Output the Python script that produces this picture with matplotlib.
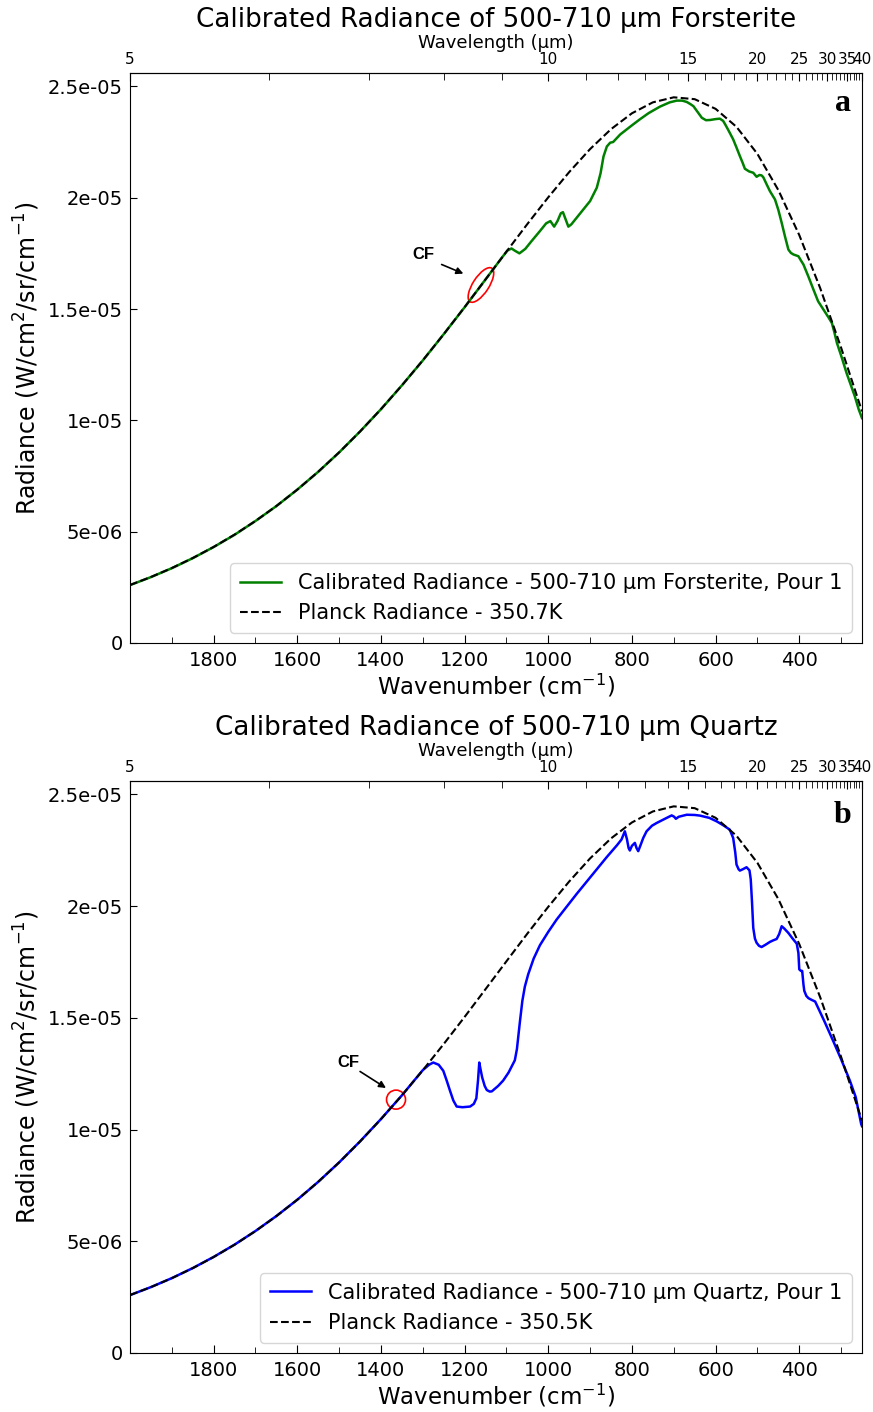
import matplotlib
matplotlib.use("Agg")
import matplotlib.pyplot as plt
from matplotlib.patches import Ellipse
from matplotlib import transforms

UNIT = 1e-6  # radiance values below are in units of 1e-6 W/cm^2/sr/cm^-1

# Planck curves sampled every 50 cm^-1
planck_wn = [2000, 1950, 1900, 1850, 1800, 1750, 1700, 1650, 1600, 1550,
             1500, 1450, 1400, 1350, 1300, 1250, 1200, 1150, 1100, 1050,
             1000, 950, 900, 850, 800, 750, 700, 650, 600, 550,
             500, 450, 400, 350, 300, 250]
planck_forsterite = [2.604, 2.963, 3.366, 3.815, 4.314, 4.868, 5.480, 6.152, 6.888, 7.691,
                     8.561, 9.498, 10.503, 11.569, 12.694, 13.869, 15.085, 16.328, 17.578, 18.818,
                     20.018, 21.151, 22.185, 23.078, 23.791, 24.282, 24.508, 24.424, 23.990, 23.180,
                     21.965, 20.341, 18.322, 15.941, 13.266, 10.403]
planck_quartz = [2.592, 2.949, 3.351, 3.798, 4.296, 4.848, 5.458, 6.128, 6.862, 7.663,
                 8.531, 9.466, 10.469, 11.532, 12.655, 13.828, 15.042, 16.284, 17.532, 18.771,
                 19.970, 21.103, 22.137, 23.031, 23.745, 24.237, 24.465, 24.384, 23.953, 23.147,
                 21.936, 20.316, 18.301, 15.924, 13.253, 10.394]

# Calibrated radiance, 500-710 um forsterite, pour 1
forsterite_wn = [2000, 1950, 1900, 1850, 1800, 1750, 1700, 1650, 1600, 1550,
                 1500, 1450, 1400, 1350, 1300, 1250, 1200, 1150, 1110, 1098,
                 1088, 1080, 1069, 1055, 1040, 1020, 1005, 995, 986, 978,
                 970, 965, 958, 952, 945, 930, 915, 900, 884, 875,
                 868, 860, 852, 845, 828, 800, 781, 760, 733, 710,
                 693, 680, 669, 660, 653, 643, 633, 623, 613, 600,
                 590, 582, 577, 568, 558, 550, 542, 535, 530, 520,
                 510, 502, 495, 490, 486, 478, 470, 458, 450, 442,
                 434, 426, 420, 414, 402, 396, 390, 378, 366, 355,
                 342, 330, 322, 316, 310, 298, 287, 277, 267, 258, 250]
forsterite_rad = [2.60, 2.96, 3.36, 3.81, 4.31, 4.86, 5.48, 6.15, 6.89, 7.69,
                  8.56, 9.50, 10.50, 11.57, 12.69, 13.87, 15.08, 16.33, 17.33, 17.62,
                  17.72, 17.62, 17.50, 17.70, 18.05, 18.50, 18.85, 18.95, 18.70, 18.95,
                  19.30, 19.35, 19.00, 18.70, 18.80, 19.15, 19.50, 19.85, 20.45, 21.10,
                  21.85, 22.30, 22.47, 22.50, 22.84, 23.25, 23.52, 23.80, 24.09, 24.28,
                  24.36, 24.36, 24.30, 24.20, 24.11, 23.85, 23.59, 23.48, 23.49, 23.53,
                  23.55, 23.45, 23.29, 22.98, 22.62, 22.25, 21.87, 21.55, 21.30, 21.18,
                  21.12, 20.94, 21.02, 21.00, 20.92, 20.60, 20.29, 19.92, 19.45, 18.87,
                  18.25, 17.67, 17.52, 17.45, 17.37, 17.18, 17.00, 16.45, 15.87, 15.35,
                  14.97, 14.62, 14.37, 13.95, 13.48, 12.80, 12.13, 11.60, 11.07, 10.50, 10.10]

# Calibrated radiance, 500-710 um quartz, pour 1
quartz_wn = [2000, 1950, 1900, 1850, 1800, 1750, 1700, 1650, 1600, 1550,
             1500, 1450, 1400, 1350, 1300, 1285, 1275, 1262, 1251, 1243,
             1235, 1227, 1219, 1205, 1187, 1178, 1172, 1168, 1165, 1162,
             1158, 1152, 1147, 1140, 1135, 1120, 1108, 1095, 1080, 1075,
             1068, 1062, 1056, 1048, 1035, 1020, 1000, 980, 955, 932,
             908, 884, 860, 836, 825, 817, 812, 808, 805, 800,
             793, 789, 785, 780, 773, 765, 752, 741, 720, 705,
             699, 695, 688, 669, 650, 637, 615, 597, 580, 566,
             558, 553, 550, 545, 542, 535, 526, 519, 516, 513,
             510, 506, 502, 496, 490, 480, 470, 462, 454, 448,
             442, 436, 426, 416, 406, 402, 400, 396, 393, 390,
             388, 383, 378, 370, 362, 340, 319, 300, 279, 265, 252, 250]
quartz_rad = [2.59, 2.95, 3.35, 3.80, 4.30, 4.85, 5.46, 6.13, 6.86, 7.66,
              8.53, 9.47, 10.47, 11.53, 12.66, 12.90, 13.00, 12.90, 12.63, 12.20,
              11.74, 11.30, 11.03, 11.00, 11.03, 11.15, 11.40, 12.20, 13.00, 12.70,
              12.33, 11.95, 11.77, 11.70, 11.71, 11.95, 12.19, 12.55, 13.10, 13.60,
              14.80, 15.76, 16.40, 16.95, 17.65, 18.25, 18.85, 19.40, 20.00, 20.55,
              21.10, 21.65, 22.20, 22.72, 22.98, 23.35, 23.00, 22.60, 22.49, 22.70,
              22.83, 22.60, 22.46, 22.70, 23.05, 23.35, 23.60, 23.72, 23.92, 24.06,
              24.00, 23.91, 24.00, 24.09, 24.08, 24.05, 23.95, 23.79, 23.60, 23.42,
              23.05, 22.40, 21.86, 21.65, 21.59, 21.65, 21.74, 21.60, 21.20, 20.20,
              19.03, 18.55, 18.36, 18.22, 18.17, 18.28, 18.40, 18.47, 18.53, 18.75,
              19.10, 19.00, 18.80, 18.55, 18.32, 17.90, 17.17, 17.10, 17.10, 16.50,
              16.21, 15.98, 15.88, 15.80, 15.73, 14.85, 13.97, 13.15, 12.19, 11.45, 10.25, 10.15]

# Axis ticks
wn_major = [1800, 1600, 1400, 1200, 1000, 800, 600, 400]
wn_minor = [1900, 1700, 1500, 1300, 1100, 900, 700, 500, 300]
rad_ticks = [0, 5e-6, 1e-5, 1.5e-5, 2e-5, 2.5e-5]
rad_tick_labels = ["0", "5e-06", "1e-05", "1.5e-05", "2e-05", "2.5e-05"]
wl_major = [5, 10, 15, 20, 25, 30, 35, 40]
wl_minor = list(range(5, 41))

panels = [
    dict(title="Calibrated Radiance of 500-710 µm Forsterite", letter="a", letter_y=0.947,
         wn=forsterite_wn, rad=forsterite_rad, planck=planck_forsterite,
         color="green", label="Calibrated Radiance - 500-710 µm Forsterite, Pour 1",
         planck_label="Planck Radiance - 350.7K",
         cf=(1161, 16.08), mark=dict(w=0.16, h=0.40, angle=-33),
         cf_text=(1299, 17.45), cf_arrow=(1203, 16.59), cf_tail=(1255, 17.0)),
    dict(title="Calibrated Radiance of 500-710 µm Quartz", letter="b", letter_y=0.94,
         wn=quartz_wn, rad=quartz_rad, planck=planck_quartz,
         color="blue", label="Calibrated Radiance - 500-710 µm Quartz, Pour 1",
         planck_label="Planck Radiance - 350.5K",
         cf=(1364, 11.34), mark=dict(w=0.19, h=0.19, angle=0),
         cf_text=(1478, 13.0), cf_arrow=(1388, 11.86), cf_tail=(1450, 12.6)),
]

fig = plt.figure(figsize=(8.73, 14.12), dpi=100)
axes_rects = [
    [130 / 873, 1 - 643 / 1412, 732 / 873, 570 / 1412],
    [130 / 873, 1 - 1353 / 1412, 732 / 873, 572 / 1412],
]

for rect, p in zip(axes_rects, panels):
    ax = fig.add_axes(rect)
    ax.plot(p["wn"], [v * UNIT for v in p["rad"]], color=p["color"], lw=1.8,
            label=p["label"], zorder=2)
    ax.plot(planck_wn, [v * UNIT for v in p["planck"]], color="black", ls="--",
            lw=1.5, label=p["planck_label"], zorder=3)

    ax.set_xlim(2000, 250)
    ax.set_ylim(0, 2.56e-5)
    ax.set_xticks(wn_major)
    ax.set_xticks(wn_minor, minor=True)
    ax.set_yticks(rad_ticks)
    ax.set_yticklabels(rad_tick_labels)
    ax.tick_params(axis="x", which="both", direction="in", labelsize=14, pad=6)
    ax.tick_params(axis="x", which="major", length=6)
    ax.tick_params(axis="x", which="minor", length=4)
    ax.tick_params(axis="y", which="both", direction="in", labelsize=14, length=5, pad=5)
    ax.set_xlabel("Wavenumber (cm$^{-1}$)", fontsize=16.5, labelpad=1)
    ax.set_ylabel("Radiance (W/cm$^{2}$/sr/cm$^{-1}$)", fontsize=17, labelpad=4)

    sec = ax.secondary_xaxis("top", functions=(lambda x: 1e4 / x, lambda x: 1e4 / x))
    sec.set_xticks(wl_major)
    sec.set_xticks(wl_minor, minor=True)
    sec.tick_params(axis="x", which="both", direction="in", labelsize=11, pad=4)
    sec.tick_params(axis="x", which="major", length=6)
    sec.tick_params(axis="x", which="minor", length=5)
    sec.set_xlabel("Wavelength (µm)", fontsize=13, labelpad=3)

    ax.set_title(p["title"], fontsize=18.8, y=1.081, pad=0)

    ax.text(0.985, p["letter_y"], p["letter"], transform=ax.transAxes, ha="right",
            va="center", fontsize=23, fontweight="bold", family="Liberation Serif")

    ax.legend(loc="lower right", fontsize=15, handlelength=2.0,
              labelspacing=0.5, borderpad=0.45)

    # continuum-fit point marker
    m = p["mark"]
    cx, cy = p["cf"]
    ell = Ellipse((0, 0), m["w"], m["h"], angle=m["angle"], fill=False,
                  edgecolor="red", lw=1.2,
                  transform=fig.dpi_scale_trans
                  + transforms.ScaledTranslation(cx, cy * UNIT, ax.transData))
    ax.add_patch(ell)
    tx, ty = p["cf_text"]
    ax.text(tx, ty * UNIT, "CF", fontsize=12, fontweight="bold",
            family="Liberation Sans", ha="center", va="center")
    ax.annotate("", xy=(p["cf_arrow"][0], p["cf_arrow"][1] * UNIT),
                xytext=(p["cf_tail"][0], p["cf_tail"][1] * UNIT),
                arrowprops=dict(arrowstyle="-|>", color="black", lw=1.2,
                                mutation_scale=10, shrinkA=0, shrinkB=0))

fig.savefig("out.png", dpi=100)
